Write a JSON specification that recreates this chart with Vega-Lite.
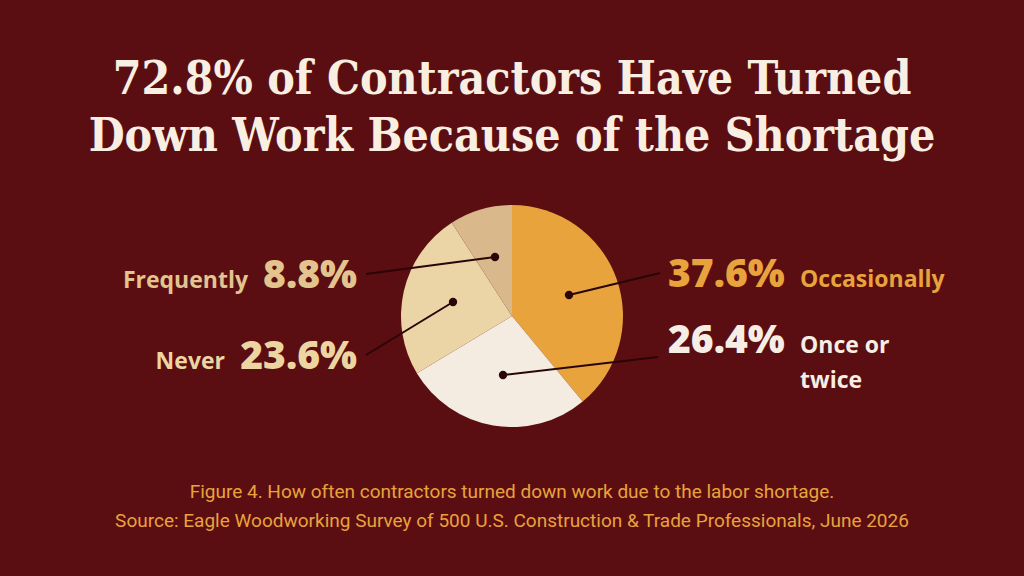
{
  "$schema": "https://vega.github.io/schema/vega-lite/v6.json",
  "width": 1024,
  "height": 406,
  "autosize": {"type": "none"},
  "padding": {"top": 170, "left": 0, "right": 0, "bottom": 0},
  "background": "#5B0E11",
  "config": {"view": {"stroke": null}},
  "title": {
    "text": ["72.8% of Contractors Have Turned", "Down Work Because of the Shortage"],
    "font": "DejaVu Serif Condensed",
    "fontWeight": "bold",
    "fontSize": 46,
    "lineHeight": 57,
    "color": "#F8EEE2",
    "anchor": "middle",
    "frame": "group",
    "baseline": "bottom",
    "offset": 12,
    "dy": 49
  },
  "data": {
    "values": [
      {"category": "Occasionally", "value": 37.6, "label": "37.6%", "ord": 1},
      {"category": "Once or twice", "value": 26.4, "label": "26.4%", "ord": 2},
      {"category": "Never", "value": 23.6, "label": "23.6%", "ord": 3},
      {"category": "Frequently", "value": 8.8, "label": "8.8%", "ord": 4}
    ]
  },
  "layer": [
    {
      "mark": {"type": "arc", "outerRadius": 111},
      "encoding": {
        "x": {"datum": 512, "type": "quantitative", "scale": {"domain": [0, 1024], "nice": false, "zero": false}, "axis": null},
        "y": {"datum": 316, "type": "quantitative", "scale": {"domain": [170, 576], "nice": false, "zero": false, "reverse": true}, "axis": null},
        "theta": {"field": "value", "type": "quantitative", "stack": true},
        "order": {"field": "ord", "type": "ordinal"},
        "color": {
          "field": "category", "type": "nominal", "legend": null,
          "scale": {"domain": ["Occasionally", "Once or twice", "Never", "Frequently"], "range": ["#E8A33C", "#F4ECE1", "#EBD5A7", "#D9B98B"]}
        }
      }
    },
    {
      "transform": [{"filter": "datum.category == 'Occasionally'"}],
      "mark": {"type": "rule", "color": "#2A0508", "strokeWidth": 2},
      "encoding": {"x": {"datum": 569}, "y": {"datum": 295}, "x2": {"datum": 660}, "y2": {"datum": 273}}
    },
    {
      "transform": [{"filter": "datum.category == 'Once or twice'"}],
      "mark": {"type": "rule", "color": "#2A0508", "strokeWidth": 2},
      "encoding": {"x": {"datum": 503}, "y": {"datum": 375}, "x2": {"datum": 658}, "y2": {"datum": 357}}
    },
    {
      "transform": [{"filter": "datum.category == 'Never'"}],
      "mark": {"type": "rule", "color": "#2A0508", "strokeWidth": 2},
      "encoding": {"x": {"datum": 453}, "y": {"datum": 302}, "x2": {"datum": 366}, "y2": {"datum": 355}}
    },
    {
      "transform": [{"filter": "datum.category == 'Frequently'"}],
      "mark": {"type": "rule", "color": "#2A0508", "strokeWidth": 2},
      "encoding": {"x": {"datum": 495}, "y": {"datum": 257}, "x2": {"datum": 366}, "y2": {"datum": 274}}
    },
    {
      "transform": [{"filter": "datum.category == 'Occasionally'"}],
      "mark": {"type": "point", "filled": true, "color": "#2A0508", "size": 70, "opacity": 1},
      "encoding": {"x": {"datum": 569}, "y": {"datum": 295}}
    },
    {
      "transform": [{"filter": "datum.category == 'Once or twice'"}],
      "mark": {"type": "point", "filled": true, "color": "#2A0508", "size": 70, "opacity": 1},
      "encoding": {"x": {"datum": 503}, "y": {"datum": 375}}
    },
    {
      "transform": [{"filter": "datum.category == 'Never'"}],
      "mark": {"type": "point", "filled": true, "color": "#2A0508", "size": 70, "opacity": 1},
      "encoding": {"x": {"datum": 453}, "y": {"datum": 302}}
    },
    {
      "transform": [{"filter": "datum.category == 'Frequently'"}],
      "mark": {"type": "point", "filled": true, "color": "#2A0508", "size": 70, "opacity": 1},
      "encoding": {"x": {"datum": 495}, "y": {"datum": 257}}
    },
    {
      "transform": [{"filter": "datum.category == 'Occasionally'"}],
      "mark": {"type": "text", "font": "Open Sans", "fontWeight": 800, "fontSize": 39, "align": "left", "baseline": "alphabetic", "color": "#E8A33C"},
      "encoding": {"x": {"datum": 668}, "y": {"datum": 287}, "text": {"field": "label"}}
    },
    {
      "transform": [{"filter": "datum.category == 'Occasionally'"}],
      "mark": {"type": "text", "font": "Open Sans", "fontWeight": "bold", "fontSize": 23, "align": "left", "baseline": "alphabetic", "color": "#E8A33C"},
      "encoding": {"x": {"datum": 800}, "y": {"datum": 287}, "text": {"field": "category"}}
    },
    {
      "transform": [{"filter": "datum.category == 'Once or twice'"}],
      "mark": {"type": "text", "font": "Open Sans", "fontWeight": 800, "fontSize": 39, "align": "left", "baseline": "alphabetic", "color": "#F6EEE4"},
      "encoding": {"x": {"datum": 668}, "y": {"datum": 353}, "text": {"field": "label"}}
    },
    {
      "transform": [{"filter": "datum.category == 'Once or twice'"}],
      "mark": {"type": "text", "font": "Open Sans", "fontWeight": "bold", "fontSize": 23, "align": "left", "baseline": "alphabetic", "color": "#F6EEE4", "lineHeight": 35},
      "encoding": {"x": {"datum": 800}, "y": {"datum": 353}, "text": {"value": ["Once or", "twice"]}}
    },
    {
      "transform": [{"filter": "datum.category == 'Never'"}],
      "mark": {"type": "text", "font": "Open Sans", "fontWeight": 800, "fontSize": 39, "align": "right", "baseline": "alphabetic", "color": "#EDD5A2"},
      "encoding": {"x": {"datum": 357}, "y": {"datum": 369}, "text": {"field": "label"}}
    },
    {
      "transform": [{"filter": "datum.category == 'Never'"}],
      "mark": {"type": "text", "font": "Open Sans", "fontWeight": "bold", "fontSize": 23, "align": "right", "baseline": "alphabetic", "color": "#EDD5A2"},
      "encoding": {"x": {"datum": 225}, "y": {"datum": 369}, "text": {"field": "category"}}
    },
    {
      "transform": [{"filter": "datum.category == 'Frequently'"}],
      "mark": {"type": "text", "font": "Open Sans", "fontWeight": 800, "fontSize": 39, "align": "right", "baseline": "alphabetic", "color": "#E3C48F"},
      "encoding": {"x": {"datum": 357}, "y": {"datum": 288}, "text": {"field": "label"}}
    },
    {
      "transform": [{"filter": "datum.category == 'Frequently'"}],
      "mark": {"type": "text", "font": "Open Sans", "fontWeight": "bold", "fontSize": 23, "align": "right", "baseline": "alphabetic", "color": "#E3C48F"},
      "encoding": {"x": {"datum": 248}, "y": {"datum": 288}, "text": {"field": "category"}}
    },
    {
      "transform": [{"filter": "datum.ord == 1"}],
      "mark": {"type": "text", "font": "Roboto", "fontSize": 19, "align": "center", "baseline": "alphabetic", "color": "#E8A33C", "lineHeight": 29},
      "encoding": {
        "x": {"datum": 512},
        "y": {"datum": 498},
        "text": {"value": ["Figure 4. How often contractors turned down work due to the labor shortage.", "Source: Eagle Woodworking Survey of 500 U.S. Construction & Trade Professionals, June 2026"]}
      }
    }
  ]
}
